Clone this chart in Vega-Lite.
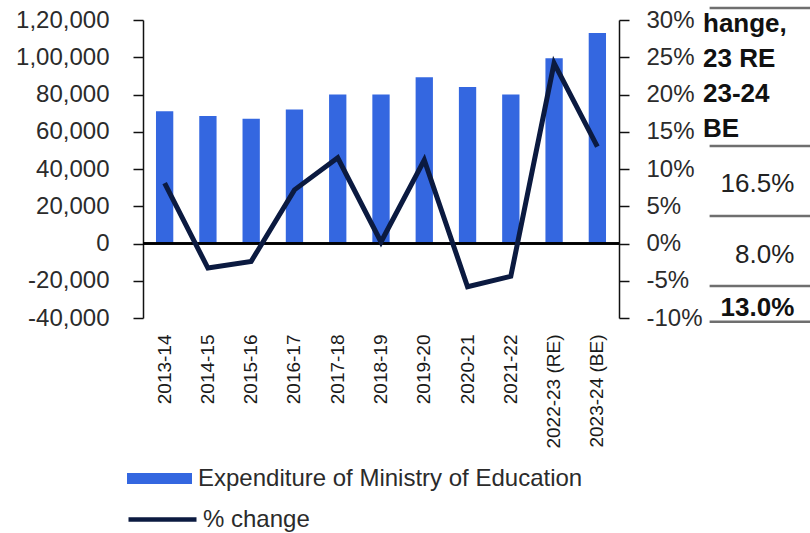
{
  "$schema": "https://vega.github.io/schema/vega-lite/v6.json",
  "background": "white",
  "padding": {"left": 15, "top": 6, "right": 0, "bottom": 0},
  "spacing": 0,
  "config": {
    "view": {"stroke": null},
    "font": "Liberation Sans",
    "axis": {"grid": false, "labelFont": "Liberation Sans", "labelColor": "#2b2b2b", "domainColor": "#111111", "tickColor": "#111111", "domainWidth": 1.5, "tickWidth": 1.5},
    "legend": {"title": null, "labelFont": "Liberation Sans", "labelFontSize": 24, "labelColor": "#2b2b2b", "padding": 0, "labelLimit": 0}
  },
  "hconcat": [
    {
      "width": 476,
      "height": 298,
      "data": {"values": [
        {"year": "2013-14", "expenditure": 71000, "pct": 8.1},
        {"year": "2014-15", "expenditure": 68500, "pct": -3.3},
        {"year": "2015-16", "expenditure": 67000, "pct": -2.4},
        {"year": "2016-17", "expenditure": 72000, "pct": 7.2},
        {"year": "2017-18", "expenditure": 80000, "pct": 11.5},
        {"year": "2018-19", "expenditure": 80000, "pct": 0.2},
        {"year": "2019-20", "expenditure": 89300, "pct": 11.2},
        {"year": "2020-21", "expenditure": 84000, "pct": -5.8},
        {"year": "2021-22", "expenditure": 80000, "pct": -4.4},
        {"year": "2022-23 (RE)", "expenditure": 99500, "pct": 24.2},
        {"year": "2023-24 (BE)", "expenditure": 113000, "pct": 13.0}
      ]},
      "layer": [
        {
          "mark": {"type": "bar"},
          "encoding": {
            "x": {"field": "year", "type": "nominal", "sort": null,
              "scale": {"paddingInner": 0.6, "paddingOuter": 0.3},
              "axis": {"title": null, "labelAngle": -90, "labelFontSize": 19, "labelPadding": 16, "domain": false, "ticks": false, "labelColor": "#1a1a1a"}},
            "y": {"field": "expenditure", "type": "quantitative",
              "scale": {"domain": [-40000, 120000], "nice": false, "zero": false},
              "axis": {"title": null, "orient": "left", "values": [-40000, -20000, 0, 20000, 40000, 60000, 80000, 100000, 120000], "tickSize": 10, "labelPadding": 24, "labelFontSize": 24,
                "labelExpr": "datum.value >= 100000 ? floor(datum.value / 100000) + ',' + slice(format(100000 + datum.value % 100000, ','), 1) : replace(format(datum.value, ','), '\u2212', '-')"}},
            "fill": {"datum": "Expenditure of Ministry of Education", "type": "nominal",
              "scale": {"range": ["#3467e0"]},
              "legend": {"orient": "none", "legendX": -16, "legendY": 426, "symbolType": "M-1,-0.17H1V0.17H-1Z", "symbolSize": 4225, "symbolStrokeWidth": 0, "labelOffset": 6}}
          }
        },
        {
          "mark": {"type": "rule", "color": "#000000", "strokeWidth": 1.5},
          "encoding": {
            "y": {"datum": 0, "type": "quantitative", "scale": {"domain": [-40000, 120000], "nice": false, "zero": false}, "axis": null}
          }
        },
        {
          "mark": {"type": "line", "strokeWidth": 5},
          "encoding": {
            "x": {"field": "year", "type": "nominal", "sort": null},
            "y": {"field": "pct", "type": "quantitative",
              "scale": {"domain": [-10, 30], "nice": false, "zero": false},
              "axis": {"title": null, "orient": "right", "values": [-10, -5, 0, 5, 10, 15, 20, 25, 30], "tickSize": 10, "labelPadding": 17, "labelFontSize": 24, "labelAlign": "left",
                "labelExpr": "datum.value + '%'"}},
            "stroke": {"datum": "% change", "type": "nominal",
              "scale": {"range": ["#0b1a40"]},
              "legend": {"orient": "none", "legendX": -17, "legendY": 463, "symbolType": "stroke", "symbolSize": 4624, "symbolStrokeWidth": 4.5, "labelOffset": 4}}
          }
        }
      ],
      "resolve": {"scale": {"y": "independent"}}
    },
    {
      "width": 110,
      "height": 298,
      "layer": [
        {
          "data": {"values": [
            {"row": -0.4},
            {"row": 4.23},
            {"row": 6.58},
            {"row": 8.93},
            {"row": 10.13}
          ]},
          "mark": {"type": "rule", "color": "#6f6f6f", "strokeWidth": 2.5, "clip": false},
          "encoding": {
            "x": {"datum": 0.06, "type": "quantitative", "scale": {"domain": [0, 1], "nice": false, "zero": false}, "axis": null},
            "x2": {"datum": 1.0},
            "y": {"field": "row", "type": "quantitative", "scale": {"domain": [0, 10], "reverse": true, "nice": false, "zero": false}, "axis": null}
          }
        },
        {
          "data": {"values": [
            {"label": "hange,", "row": 0.13},
            {"label": "23 RE", "row": 1.31},
            {"label": "23-24", "row": 2.48},
            {"label": "BE", "row": 3.66}
          ]},
          "mark": {"type": "text", "align": "left", "baseline": "middle", "fontSize": 26, "fontWeight": "bold", "color": "#111111"},
          "encoding": {
            "x": {"datum": 0.0, "type": "quantitative"},
            "y": {"field": "row", "type": "quantitative"},
            "text": {"field": "label"}
          }
        },
        {
          "data": {"values": [
            {"label": "16.5%", "row": 5.5},
            {"label": "8.0%", "row": 7.89}
          ]},
          "mark": {"type": "text", "align": "right", "baseline": "middle", "fontSize": 26, "color": "#222222"},
          "encoding": {
            "x": {"datum": 0.83, "type": "quantitative"},
            "y": {"field": "row", "type": "quantitative"},
            "text": {"field": "label"}
          }
        },
        {
          "data": {"values": [
            {"label": "13.0%", "row": 9.66}
          ]},
          "mark": {"type": "text", "align": "right", "baseline": "middle", "fontSize": 26, "fontWeight": "bold", "color": "#111111"},
          "encoding": {
            "x": {"datum": 0.83, "type": "quantitative"},
            "y": {"field": "row", "type": "quantitative"},
            "text": {"field": "label"}
          }
        }
      ]
    }
  ]
}
